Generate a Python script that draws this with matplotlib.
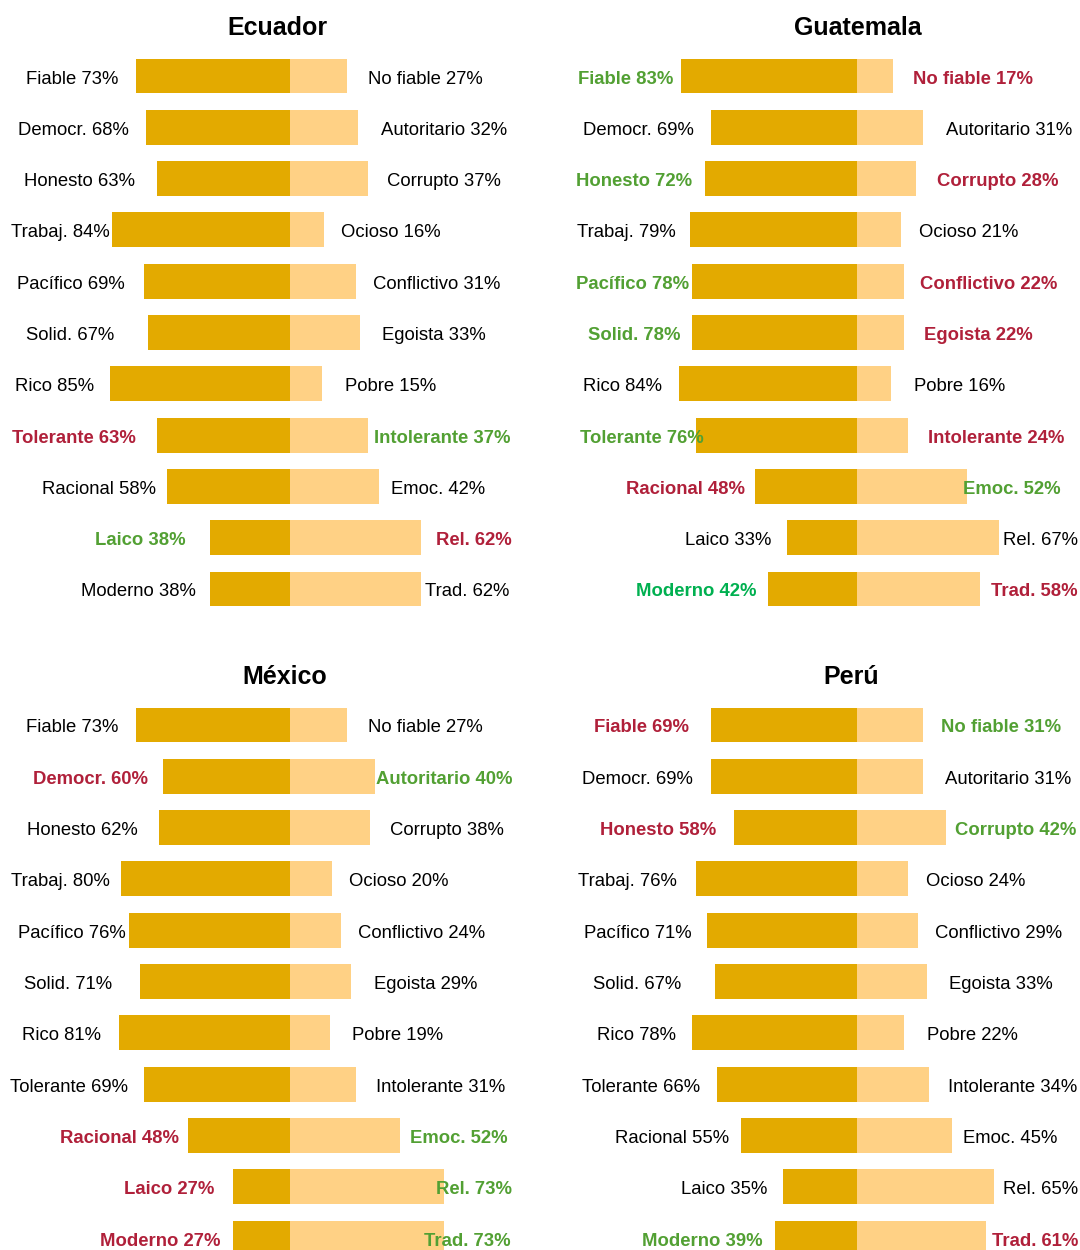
import numpy as np
import matplotlib.pyplot as plt

plt.rcParams['font.family'] = ['Liberation Sans', 'DejaVu Sans']

# data
countries = ['Ecuador', 'Guatemala', 'México', 'Perú']
left_names = ['Fiable', 'Democr.', 'Honesto', 'Trabaj.', 'Pacífico', 'Solid.',
              'Rico', 'Tolerante', 'Racional', 'Laico', 'Moderno']
right_names = ['No fiable', 'Autoritario', 'Corrupto', 'Ocioso', 'Conflictivo',
               'Egoista', 'Pobre', 'Intolerante', 'Emoc.', 'Rel.', 'Trad.']

ecu_left = [73, 68, 63, 84, 69, 67, 85, 63, 58, 38, 38]
ecu_right = [27, 32, 37, 16, 31, 33, 15, 37, 42, 62, 62]
gua_left = [83, 69, 72, 79, 78, 78, 84, 76, 48, 33, 42]
gua_right = [17, 31, 28, 21, 22, 22, 16, 24, 52, 67, 58]
mex_left = [73, 60, 62, 80, 76, 71, 81, 69, 48, 27, 27]
mex_right = [27, 40, 38, 20, 24, 29, 19, 31, 52, 73, 73]
per_left = [69, 69, 58, 76, 71, 67, 78, 66, 55, 35, 39]
per_right = [31, 31, 42, 24, 29, 33, 22, 34, 45, 65, 61]

# label highlight: k = plain, r = red, g = green, G = bright green
ecu_lc = ['k', 'k', 'k', 'k', 'k', 'k', 'k', 'r', 'k', 'g', 'k']
ecu_rc = ['k', 'k', 'k', 'k', 'k', 'k', 'k', 'g', 'k', 'r', 'k']
gua_lc = ['g', 'k', 'g', 'k', 'g', 'g', 'k', 'g', 'r', 'k', 'G']
gua_rc = ['r', 'k', 'r', 'k', 'r', 'r', 'k', 'r', 'g', 'k', 'r']
mex_lc = ['k', 'r', 'k', 'k', 'k', 'k', 'k', 'k', 'r', 'r', 'r']
mex_rc = ['k', 'g', 'k', 'k', 'k', 'k', 'k', 'k', 'g', 'g', 'g']
per_lc = ['r', 'k', 'r', 'k', 'k', 'k', 'k', 'k', 'k', 'k', 'g']
per_rc = ['g', 'k', 'g', 'k', 'k', 'k', 'k', 'k', 'k', 'k', 'r']

lefts = [ecu_left, gua_left, mex_left, per_left]
rights = [ecu_right, gua_right, mex_right, per_right]
lcols = [ecu_lc, gua_lc, mex_lc, per_lc]
rcols = [ecu_rc, gua_rc, mex_rc, per_rc]

# layout (pixels)
S = 2.115      # px per percent
STEP = 51.3    # px per row
gap_l = [[17, 17, 22, 3, 19, 34, 16, 21, 11, 24, 14],
         [8, 17, 13, 14, 3, 12, 17, -7, 10, 16, 12],
         [17, 15, 21, 11, 4, 28, 18, 16, 9, 19, 12],
         [22, 18, 18, 19, 15, 34, 16, 17, 12, 16, 12]]
gap_r = [[21, 23, 19, 17, 17, 22, 23, 6, 12, 15, 4],
         [20, 23, 21, 18, 16, 20, 23, 20, -4, 4, 11],
         [21, 1, 20, 17, 17, 23, 22, 20, 10, -8, -20],
         [18, 22, 9, 18, 17, 22, 23, 19, 11, 9, 6]]
centers = [290, 857, 290, 857]
y0s = [76, 76, 725, 725]
title_x = [277, 858, 285, 851]
boxes = [(0, 0), (540, 0), (0, 625), (540, 625)]
DY = 3 / STEP  # nudge labels down a bit

dark = '#E3AA00'
light = '#FFD185'
tcol = {'k': 'black', 'r': '#B0203A', 'g': '#52A033', 'G': '#00B050'}

fig = plt.figure(figsize=(10.8, 12.5), dpi=100)

for p in range(4):
    bx, by = boxes[p]
    ax = fig.add_axes([bx / 1080, 1 - (by + 625) / 1250, 540 / 1080, 625 / 1250])
    cx = centers[p]
    y0 = y0s[p]
    ax.set_xlim((bx - cx) / S, (bx + 540 - cx) / S)
    ax.set_ylim((by + 625 - y0) / STEP, (by - y0) / STEP)
    ax.axis('off')

    y = np.arange(len(left_names))
    lv = np.array(lefts[p])
    rv = np.array(rights[p])
    ax.barh(y, -lv, height=0.68, color=dark, edgecolor='none')
    ax.barh(y, rv, height=0.68, color=light, edgecolor='none')

    for i in range(len(y)):
        c = lcols[p][i]
        ax.text(-lv[i] - gap_l[p][i] / S, y[i] + DY, '%s %d%%' % (left_names[i], lv[i]),
                ha='right', va='center', fontsize=13.3, color=tcol[c],
                fontweight='bold' if c != 'k' else 'normal')
        c = rcols[p][i]
        ax.text(rv[i] + gap_r[p][i] / S, y[i] + DY, '%s %d%%' % (right_names[i], rv[i]),
                ha='left', va='center', fontsize=13.3, color=tcol[c],
                fontweight='bold' if c != 'k' else 'normal')

    ax.text((title_x[p] - cx) / S, -48 / STEP, countries[p], ha='center', va='center',
            fontsize=18, fontweight='bold')

fig.savefig('out.png', dpi=100)
